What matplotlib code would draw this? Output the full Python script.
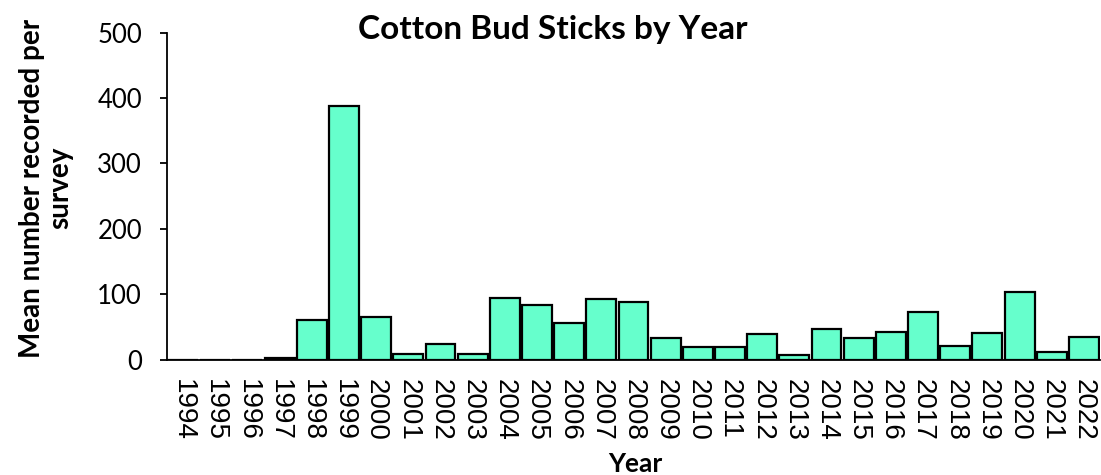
import matplotlib
matplotlib.use("Agg")
import matplotlib.pyplot as plt

years = [str(y) for y in range(1994, 2023)]
mean_counts = [0, 0, 0, 2, 61, 388, 65, 8, 23, 9, 94, 84, 56, 93, 88,
               33, 19, 19, 39, 7, 47, 33, 42, 72, 20, 41, 104, 11, 34]
y_ticks = [0, 100, 200, 300, 400, 500]

bar_color = "#66FFCC"
label_font = "Lato"

fig = plt.figure(figsize=(11.01, 4.75), dpi=100)
ax = fig.add_axes([167 / 1101, 1 - 359.5 / 475, (1100 - 167) / 1101, (359.5 - 32.7) / 475])

x = range(len(years))
ax.bar(x, mean_counts, width=0.93, color=bar_color, edgecolor="black", linewidth=1.6)

ax.set_xlim(-0.5, len(years) - 0.5)
ax.set_ylim(0, 500)
ax.set_yticks(y_ticks)
ax.set_yticklabels([str(v) for v in y_ticks], fontsize=18.5, family=label_font)
ax.set_xticks(list(x))
ax.set_xticklabels(years, rotation=-90, fontsize=20, family="Liberation Sans")

ax.tick_params(axis="x", length=0, pad=14)
ax.tick_params(axis="y", length=5, width=1.3, pad=13, direction="out")
for side in ("top", "right"):
    ax.spines[side].set_visible(False)
ax.spines["left"].set_linewidth(1.3)
ax.spines["bottom"].set_linewidth(1.3)

fig.text(553 / 1101, 1 - 30 / 475, "Cotton Bud Sticks by Year", ha="center", va="center",
         fontsize=24, fontweight="bold", family=label_font)
fig.text(635 / 1101, 1 - 464 / 475, "Year", ha="center", va="center",
         fontsize=19, fontweight="bold", family=label_font)
fig.text(46 / 1101, 1 - 188 / 475, "Mean number recorded per\nsurvey", ha="center", va="center",
         rotation=90, fontsize=20, fontweight="bold", family=label_font, linespacing=1.1)

fig.savefig("out.png", dpi=100)
